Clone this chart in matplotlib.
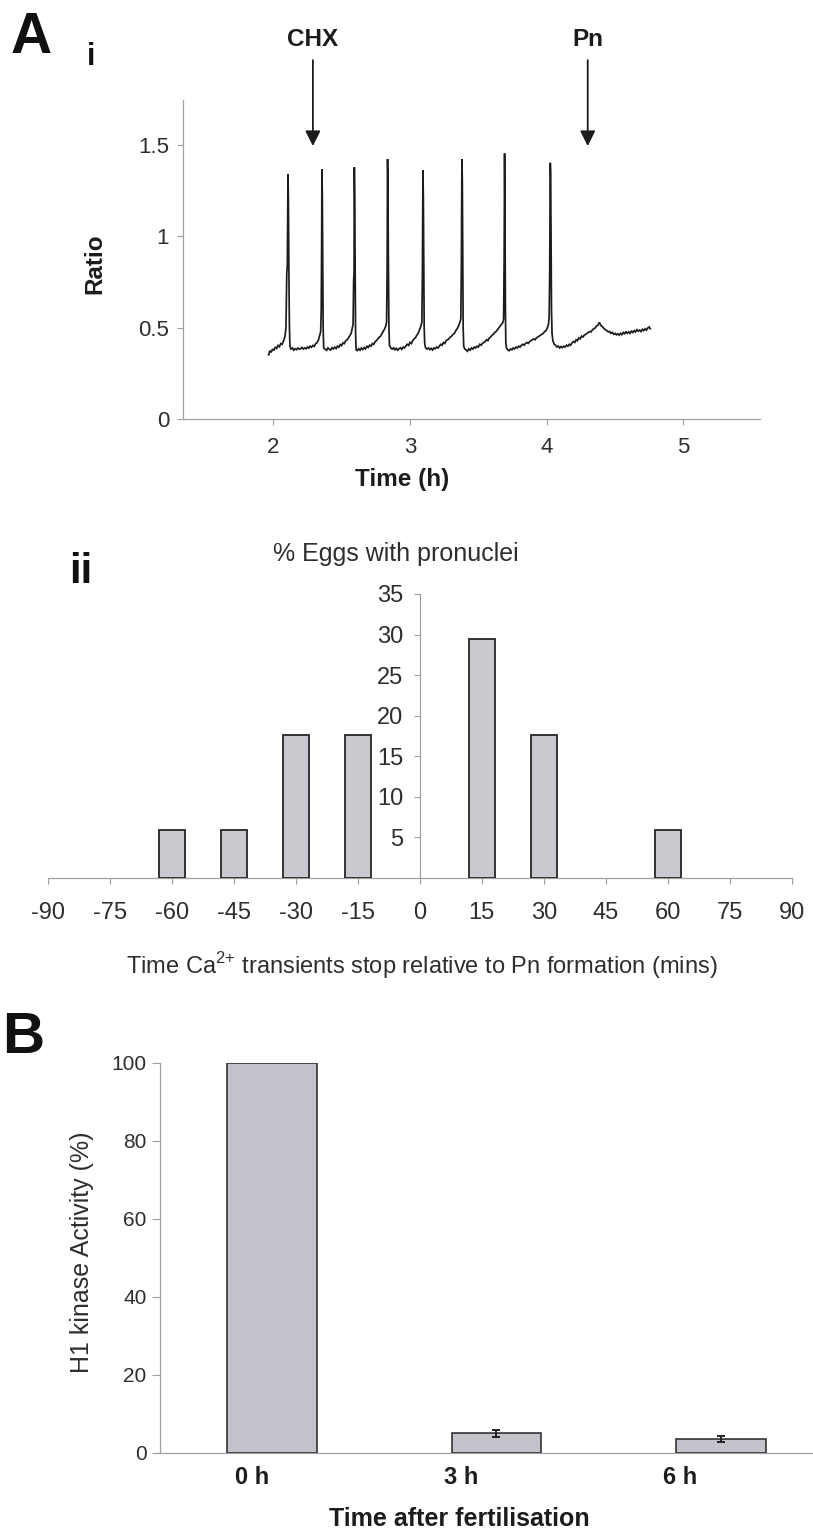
import matplotlib
matplotlib.use("Agg")
import matplotlib.pyplot as plt
import matplotlib.transforms as mtransforms

plt.rcParams['font.family'] = ['Liberation Sans', 'DejaVu Sans']
plt.rcParams['mathtext.fontset'] = 'custom'
plt.rcParams['mathtext.rm'] = 'Liberation Sans'
plt.rcParams['mathtext.bf'] = 'Liberation Sans:bold'

# ---------------- Panel A(i): Ca2+ ratio trace ----------------
trace_time = [
    1.966, 1.975, 1.985, 1.995, 2.005, 2.015, 2.025, 2.035, 2.045, 2.055,
    2.065, 2.075, 2.085, 2.093, 2.099, 2.103, 2.105, 2.108, 2.111, 2.114, 2.118, 2.122,
    2.13, 2.14, 2.15, 2.16, 2.17, 2.18, 2.19, 2.20, 2.21, 2.22, 2.23, 2.24, 2.25, 2.26,
    2.27, 2.28, 2.29, 2.30, 2.31, 2.32, 2.33, 2.34, 2.347, 2.351, 2.354, 2.356, 2.359,
    2.362, 2.365, 2.369,
    2.38, 2.39, 2.40, 2.41, 2.42, 2.43, 2.44, 2.45, 2.46, 2.47, 2.48, 2.49, 2.50, 2.51,
    2.52, 2.53, 2.54, 2.55, 2.56, 2.57, 2.578, 2.584, 2.588, 2.591, 2.593, 2.596, 2.599,
    2.602, 2.606,
    2.615, 2.625, 2.635, 2.645, 2.655, 2.665, 2.675, 2.685, 2.695, 2.705, 2.715, 2.725,
    2.735, 2.745, 2.755, 2.765, 2.775, 2.785, 2.795, 2.805, 2.815, 2.823, 2.829, 2.833,
    2.836, 2.839, 2.842, 2.846, 2.85,
    2.86, 2.87, 2.88, 2.89, 2.90, 2.91, 2.92, 2.93, 2.94, 2.95, 2.96, 2.97, 2.98, 2.99,
    3.00, 3.01, 3.02, 3.03, 3.04, 3.05, 3.06, 3.07, 3.08, 3.087, 3.091, 3.095, 3.098,
    3.101, 3.104, 3.108,
    3.115, 3.125, 3.135, 3.145, 3.155, 3.165, 3.175, 3.185, 3.195, 3.205, 3.215, 3.225,
    3.235, 3.245, 3.255, 3.265, 3.275, 3.285, 3.295, 3.305, 3.315, 3.325, 3.335, 3.345,
    3.355, 3.365, 3.372, 3.376, 3.38, 3.383, 3.386, 3.389, 3.393,
    3.40, 3.41, 3.42, 3.43, 3.44, 3.45, 3.46, 3.47, 3.48, 3.49, 3.50, 3.51, 3.52, 3.53,
    3.54, 3.55, 3.56, 3.57, 3.58, 3.59, 3.60, 3.61, 3.62, 3.63, 3.64, 3.65, 3.66, 3.67,
    3.68, 3.685, 3.689, 3.692, 3.695, 3.698, 3.701, 3.706,
    3.715, 3.725, 3.735, 3.745, 3.755, 3.765, 3.775, 3.785, 3.795, 3.805, 3.815, 3.825,
    3.835, 3.845, 3.855, 3.865, 3.875, 3.885, 3.895, 3.905, 3.915, 3.925, 3.935, 3.945,
    3.955, 3.965, 3.975, 3.985, 3.995, 4.005, 4.013, 4.018, 4.022, 4.026, 4.029, 4.032,
    4.035, 4.039, 4.045, 4.055,
    4.065, 4.075, 4.085, 4.095, 4.105, 4.115, 4.125, 4.135, 4.145, 4.155, 4.165, 4.175,
    4.185, 4.195, 4.205, 4.215, 4.225, 4.235, 4.245, 4.255, 4.265, 4.275, 4.285, 4.295,
    4.305, 4.315, 4.325, 4.335, 4.345, 4.355, 4.365, 4.375, 4.385, 4.392, 4.40, 4.41,
    4.42, 4.43, 4.44, 4.45, 4.46, 4.47, 4.48, 4.49, 4.50, 4.51, 4.52, 4.53, 4.54, 4.55,
    4.56, 4.57, 4.58, 4.59, 4.60, 4.61, 4.62, 4.63, 4.64, 4.65, 4.66, 4.67, 4.68, 4.69,
    4.70, 4.71, 4.72, 4.73, 4.74, 4.75, 4.757,
]
trace_ratio = [
    0.352, 0.375, 0.366, 0.384, 0.377, 0.395, 0.388, 0.404, 0.397, 0.414,
    0.41, 0.428, 0.45, 0.50, 0.80, 0.84, 1.05, 1.34, 1.18, 0.85, 0.52, 0.40,
    0.384, 0.39, 0.378, 0.386, 0.381, 0.39, 0.383, 0.386, 0.393, 0.384, 0.39, 0.386, 0.395,
    0.389, 0.40, 0.394, 0.404, 0.399, 0.413, 0.42, 0.432, 0.46, 0.48, 0.60, 0.95, 1.367,
    1.22, 0.85, 0.50, 0.39,
    0.383, 0.377, 0.39, 0.383, 0.379, 0.392, 0.385, 0.394, 0.387, 0.40, 0.394, 0.409,
    0.403, 0.418, 0.414, 0.43, 0.434, 0.445, 0.458, 0.47, 0.50, 0.52, 0.76, 0.80, 1.378,
    1.2, 0.8, 0.48, 0.38,
    0.376, 0.386, 0.378, 0.39, 0.382, 0.392, 0.385, 0.399, 0.393, 0.405, 0.40, 0.414,
    0.41, 0.424, 0.43, 0.44, 0.448, 0.455, 0.468, 0.48, 0.495, 0.51, 0.53, 0.80, 1.423,
    1.28, 0.88, 0.50, 0.405,
    0.39, 0.384, 0.391, 0.38, 0.388, 0.378, 0.386, 0.391, 0.383, 0.395, 0.39, 0.401, 0.41,
    0.404, 0.42, 0.414, 0.43, 0.44, 0.446, 0.46, 0.47, 0.49, 0.51, 0.53, 0.80, 1.363, 1.2,
    0.8, 0.5, 0.41,
    0.39, 0.384, 0.39, 0.381, 0.388, 0.379, 0.39, 0.386, 0.395, 0.39, 0.40, 0.41, 0.405,
    0.42, 0.415, 0.43, 0.435, 0.44, 0.45, 0.455, 0.465, 0.47, 0.485, 0.495, 0.51, 0.53,
    0.55, 0.85, 1.423, 1.3, 0.9, 0.5, 0.40,
    0.385, 0.38, 0.372, 0.385, 0.378, 0.39, 0.384, 0.395, 0.39, 0.40, 0.395, 0.41, 0.405,
    0.415, 0.42, 0.425, 0.435, 0.43, 0.445, 0.45, 0.46, 0.465, 0.475, 0.48, 0.49, 0.50,
    0.51, 0.52, 0.53, 0.55, 0.90, 1.454, 1.1, 0.6, 0.42, 0.39,
    0.38, 0.375, 0.385, 0.38, 0.39, 0.385, 0.395, 0.39, 0.40, 0.395, 0.405, 0.41, 0.405,
    0.415, 0.42, 0.415, 0.425, 0.43, 0.435, 0.44, 0.435, 0.445, 0.45, 0.455, 0.46, 0.465,
    0.47, 0.48, 0.485, 0.50, 0.52, 0.56, 0.80, 1.403, 1.35, 1.0, 0.6, 0.47, 0.43, 0.41,
    0.405, 0.395, 0.40, 0.39, 0.398, 0.392, 0.40, 0.395, 0.405, 0.40, 0.41, 0.405, 0.418,
    0.425, 0.42, 0.435, 0.43, 0.445, 0.44, 0.455, 0.45, 0.46, 0.465, 0.47, 0.475, 0.48,
    0.478, 0.49, 0.495, 0.50, 0.51, 0.515, 0.53, 0.52, 0.51, 0.505, 0.495, 0.49, 0.485,
    0.478, 0.48, 0.47, 0.475, 0.465, 0.47, 0.462, 0.468, 0.46, 0.47, 0.463, 0.475, 0.468,
    0.48, 0.47, 0.478, 0.47, 0.482, 0.475, 0.485, 0.478, 0.49, 0.482, 0.488, 0.48, 0.492,
    0.485, 0.495, 0.488, 0.50, 0.505, 0.495,
]
ratio_ticks = [0, 0.5, 1, 1.5]
ratio_tick_labels = ['0', '0.5', '1', '1.5']
hour_ticks = [2, 3, 4, 5]
hour_tick_labels = ['2', '3', '4', '5']
event_names = ['CHX', 'Pn']
event_times = [2.29, 4.30]

# ---------------- Panel A(ii): timing histogram ----------------
stop_minutes = [-60, -45, -30, -15, 15, 30, 60]
pct_eggs = [5.9, 5.9, 17.6, 17.6, 29.4, 17.6, 5.9]
minute_ticks = [-90, -75, -60, -45, -30, -15, 0, 15, 30, 45, 60, 75, 90]
pct_ticks = [5, 10, 15, 20, 25, 30, 35]

# ---------------- Panel B: H1 kinase activity ----------------
h1_groups = ['0 h', '3 h', '6 h']
h1_activity = [100, 4.9, 3.5]
h1_sem = [0, 0.8, 0.8]
h1_ticks = [0, 20, 40, 60, 80, 100]

# ---------------- figure layout (pixels) ----------------
W, H = 813, 1530
fig = plt.figure(figsize=(W / 100, H / 100), dpi=100)
fig.patch.set_facecolor('white')


def box(left, top, right, bottom):
    return [left / W, 1 - bottom / H, (right - left) / W, (bottom - top) / H]


def fpos(x, y):
    return x / W, 1 - y / H


AXIS = '#a0a0a0'
TXT = '#2e2e2e'
INK = '#1c1c1c'


def style_axes(ax):
    for s in ('top', 'right'):
        ax.spines[s].set_visible(False)
    for s in ('left', 'bottom'):
        ax.spines[s].set_color(AXIS)
        ax.spines[s].set_linewidth(0.9)


# --- A(i)
ax1 = fig.add_axes(box(183, 100, 760, 419.3))
ax1.plot(trace_time, trace_ratio, color=INK, lw=1.25, solid_joinstyle='miter')
ax1.set_xlim(1.34, 5.56)
ax1.set_ylim(0, 1.746)
style_axes(ax1)
ax1.set_yticks(ratio_ticks)
ax1.set_yticklabels(ratio_tick_labels)
ax1.set_xticks(hour_ticks)
ax1.set_xticklabels(hour_tick_labels)
ax1.tick_params(axis='both', direction='out', length=4, width=0.8, color=AXIS,
                labelsize=16, labelcolor=TXT)
ax1.tick_params(axis='x', pad=9)
ax1.tick_params(axis='y', pad=6)

for name, t in zip(event_names, event_times):
    ax1.annotate('', xy=(t, 1.494), xytext=(t, 1.964), xycoords='data',
                 textcoords='data', annotation_clip=False,
                 arrowprops=dict(arrowstyle='-|>,head_length=0.4,head_width=0.2',
                                 mutation_scale=23, lw=1.3, color=INK,
                                 shrinkA=0, shrinkB=0))
    ax1.text(t, 2.041, name, ha='center', va='baseline', fontsize=17.5,
             fontweight='bold', color=INK, clip_on=False)

fig.text(*fpos(94.6, 264), 'Ratio', rotation=90, ha='center', va='center',
         fontsize=17.5, fontweight='bold', color=INK)
fig.text(*fpos(402, 486), 'Time (h)', ha='center', va='baseline',
         fontsize=17.5, fontweight='bold', color=INK)

# --- A(ii)
ax2 = fig.add_axes(box(47.7, 594, 791.8, 877.7))
ax2.bar(stop_minutes, pct_eggs, width=6.2, color='#c9c9cf', edgecolor='#262626',
        linewidth=1.3, zorder=3)
ax2.set_xlim(-90, 90)
ax2.set_ylim(0, 35)
style_axes(ax2)
ax2.spines['left'].set_position(('data', 0))
ax2.set_xticks(minute_ticks)
ax2.set_xticklabels([str(v) for v in minute_ticks])
ax2.set_yticks(pct_ticks)
ax2.set_yticklabels([str(v) for v in pct_ticks])
ax2.tick_params(axis='both', direction='out', length=4, width=0.8, color=AXIS,
                labelsize=17, labelcolor=TXT)
ax2.tick_params(axis='x', pad=13.5)
ax2.tick_params(axis='y', pad=8)
for lab in ax2.get_yticklabels():
    lab.set_zorder(5)

fig.text(*fpos(395.5, 561), '% Eggs with pronuclei', ha='center', va='baseline',
         fontsize=18, color=TXT)
fig.text(*fpos(422, 974),
         r'Time Ca$^{\mathregular{2{+}}}$ transients stop relative to Pn formation (mins)',
         ha='center', va='baseline', fontsize=17, color=TXT)

# --- B
ax3 = fig.add_axes(box(159.7, 1062.9, 813, 1452.5))
xs = list(range(len(h1_groups)))
ax3.bar(xs, h1_activity, width=0.4, color='#c3c3cb', edgecolor='#262626',
        linewidth=1.1, zorder=3)
err_x = [x for x, e in zip(xs, h1_sem) if e > 0]
err_y = [v for v, e in zip(h1_activity, h1_sem) if e > 0]
err_e = [e for e in h1_sem if e > 0]
ax3.errorbar(err_x, err_y, yerr=err_e, fmt='none', ecolor='#222222',
             elinewidth=1.4, capsize=3.2, capthick=1.4, zorder=4)
ax3.set_xlim(-0.5, 2.41)
ax3.set_ylim(0, 100)
style_axes(ax3)
ax3.set_xticks([])
ax3.set_yticks(h1_ticks)
ax3.set_yticklabels([str(v) for v in h1_ticks])
ax3.tick_params(axis='y', direction='out', length=5.5, width=0.8, color=AXIS,
                labelsize=15, labelcolor=TXT, pad=4)

# group labels sit slightly left of each bar centre
label_shift_px = [-20, -35, -41]
for x, name, dx in zip(xs, h1_groups, label_shift_px):
    tr = mtransforms.offset_copy(ax3.get_xaxis_transform(), fig=fig, x=dx, y=0,
                                 units='dots')
    ax3.text(x, -0.0809, name, transform=tr, ha='center', va='baseline',
             fontsize=17, fontweight='bold', color=INK, clip_on=False)

fig.text(*fpos(82, 1252), 'H1 kinase Activity (%)', rotation=90, ha='center',
         va='center', fontsize=18, color=TXT)
fig.text(*fpos(459.7, 1526), 'Time after fertilisation', ha='center',
         va='baseline', fontsize=18, fontweight='bold', color=INK)

# panel letters
fig.text(*fpos(11, 53), 'A', ha='left', va='baseline', fontsize=41,
         fontweight='bold', color='#111111')
fig.text(*fpos(91.5, 65), 'i', ha='center', va='baseline', fontsize=22,
         fontweight='bold', color='#111111')
fig.text(*fpos(81, 583), 'ii', ha='center', va='baseline', fontsize=30,
         fontweight='bold', color='#111111')
fig.text(*fpos(2, 1053), 'B', ha='left', va='baseline', fontsize=42,
         fontweight='bold', color='#111111')

fig.savefig('out.png', dpi=100, facecolor='white')
